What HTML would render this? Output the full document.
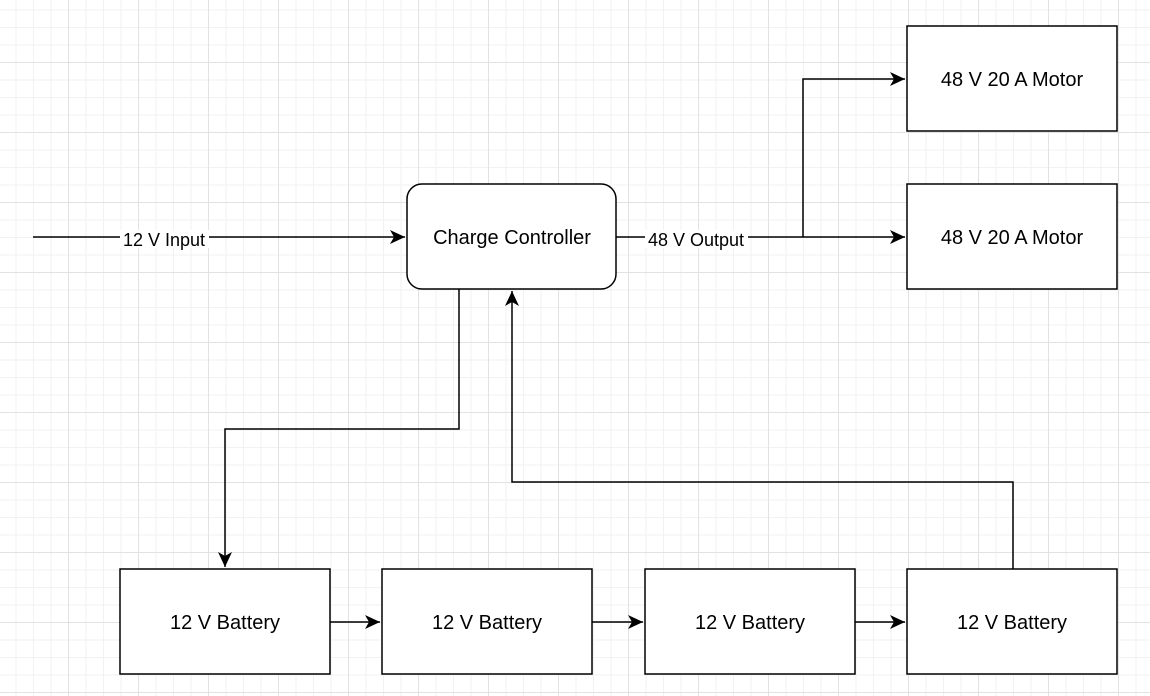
<!DOCTYPE html>
<html><head><style>
body{margin:0;width:1150px;height:696px;overflow:hidden;background:#fff;
background-image:
linear-gradient(#e2e2e2 1px,transparent 1px),
linear-gradient(90deg,#e2e2e2 1px,transparent 1px),
linear-gradient(#f2f2f2 1px,transparent 1px),
linear-gradient(90deg,#f2f2f2 1px,transparent 1px);
background-size:70px 70px,70px 70px,17.5px 17.5px,17.5px 17.5px;
background-position:-2px -8px,-2px -8px,-2px -8px,-2px -8px;
font-family:"Liberation Sans",sans-serif}
</style></head><body>
<svg width="1150" height="696" style="position:absolute;left:0;top:0" font-family="Liberation Sans, sans-serif" font-size="20">
<defs><marker id="a" markerWidth="16" markerHeight="14" refX="15" refY="7" orient="auto" markerUnits="userSpaceOnUse"><path d="M0,0 L15,7 L0,14 L4,7 Z" fill="#000"/></marker></defs>
<g fill="#fff" stroke="#000" stroke-width="1.5">
<rect x="407" y="184" width="209" height="105" rx="15"/>
<rect x="907" y="26" width="210" height="105"/>
<rect x="907" y="184" width="210" height="105"/>
<rect x="120" y="569" width="210" height="105"/>
<rect x="382" y="569" width="210" height="105"/>
<rect x="645" y="569" width="210" height="105"/>
<rect x="907" y="569" width="210" height="105"/>
</g>
<g fill="none" stroke="#000" stroke-width="1.5">
<path d="M33,237 H405" marker-end="url(#a)"/>
<path d="M616,237 H905" marker-end="url(#a)"/>
<path d="M803,237 V79 H905" marker-end="url(#a)"/>
<path d="M459,289 V429 H225 V567" marker-end="url(#a)"/>
<path d="M1013,569 V482 H512 V291" marker-end="url(#a)"/>
<path d="M330,622 H380" marker-end="url(#a)"/>
<path d="M592,622 H643" marker-end="url(#a)"/>
<path d="M855,622 H905" marker-end="url(#a)"/>
</g>
<rect x="120" y="230" width="89" height="18" fill="#fff"/>
<rect x="645" y="230" width="103" height="18" fill="#fff"/>
<g text-anchor="middle" fill="#000">
<text x="164" y="246" font-size="18">12 V Input</text>
<text x="696" y="246" font-size="18">48 V Output</text>
<text x="512" y="244">Charge Controller</text>
<text x="1012" y="86">48 V 20 A Motor</text>
<text x="1012" y="244">48 V 20 A Motor</text>
<text x="225" y="629">12 V Battery</text>
<text x="487" y="629">12 V Battery</text>
<text x="750" y="629">12 V Battery</text>
<text x="1012" y="629">12 V Battery</text>
</g>
</svg>
</body></html>
